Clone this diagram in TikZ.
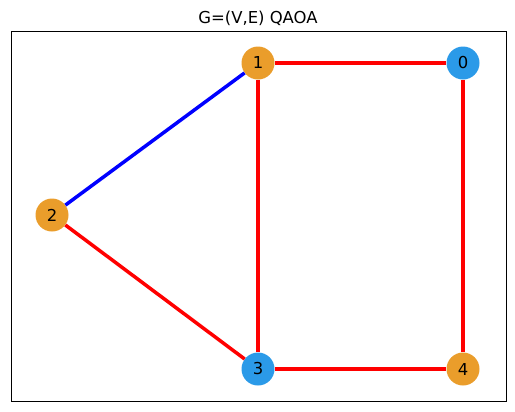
\documentclass[tikz,border=0pt]{standalone}
\usepackage{fontspec}
\setmainfont{DejaVu Sans}
\usepackage{xcolor}
\usetikzlibrary{positioning}
\definecolor{qaoaOrange}{HTML}{EA9D2B}
\definecolor{qaoaBlue}{HTML}{2B9AE8}
\definecolor{cutRed}{HTML}{FF0000}
\definecolor{keepBlue}{HTML}{0000FF}
\tikzset{
  qubit/.style={
    circle, minimum size=33bp, inner sep=0pt,
    font=\fontsize{16.5}{18}\selectfont,
  },
  cut edge/.style={cutRed, line width=3.5bp},
  kept edge/.style={keepBlue, line width=3.5bp},
}

\begin{document}
\begin{tikzpicture}[x=1bp, y=-1bp]

% Canvas and axes frame
\useasboundingbox (0, 0) rectangle (515, 411);
\draw[black, line width=0.9bp] (11, 31) rectangle (506.5, 401);
\node[font=\fontsize{16.5}{18}\selectfont] (title) at (258, 18) {G=(V,E) QAOA};

% Vertices (colour = side of the partition)
\node[qubit, fill=qaoaBlue]   (q0) at (463, 63)  {0};
\node[qubit, fill=qaoaOrange] (q1) at (258, 63)  {1};
\node[qubit, fill=qaoaOrange] (q2) at (52, 215)  {2};
\node[qubit, fill=qaoaBlue]   (q3) at (258, 369) {3};
\node[qubit, fill=qaoaOrange] (q4) at (463, 369) {4};

% Edges (red = cut, blue = not cut)
\draw[cut edge]  (q1) -- (q0);
\draw[kept edge] (q1) -- (q2);
\draw[cut edge]  (q1) -- (q3);
\draw[cut edge]  (q2) -- (q3);
\draw[cut edge]  (q3) -- (q4);
\draw[cut edge]  (q0) -- (q4);

\end{tikzpicture}
\end{document}
